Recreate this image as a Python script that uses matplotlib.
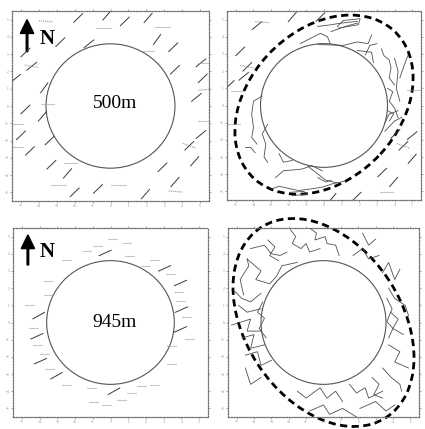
import matplotlib
matplotlib.use("Agg")
import numpy as np
import matplotlib.pyplot as plt
from matplotlib.patches import Circle, Ellipse

plt.rcParams["font.family"] = ["Liberation Serif", "DejaVu Serif"]

TICKS = list(range(-5, 6))
HOLE_R = 3.6
DEPTHS = ["500m", "945m"]

# --- 500 m: orientation sticks (centre x, centre y, angle in deg) ---
tl_stick_x = [-1.8, -0.2, 0.8, 2.1, -2.8, -1.2, 2.6, 3.5, -4.75, -4.4, 3.6, 5.05, -5.3, 5.15, -3.7, 4.8,
              -4.75, -3.8, -5.0, -3.4, -4.5, 4.4, 5.05, 4.7, -3.3, -2.4, 2.9, 3.6, -2.0, -0.7, 1.95]
tl_stick_y = [5.1, 5.25, 4.9, 5.1, 3.7, 3.6, 3.85, 3.4, 3.1, 2.3, 2.1, 2.5, 1.6, 1.6, 1.05, 0.5,
              -0.2, -0.6, -1.7, -2.0, -2.6, -2.3, -1.65, -3.2, -3.4, -3.9, -3.55, -4.4, -5.0, -4.8, -5.1]
tl_stick_a = [45, 50, 45, 50, 45, 40, 55, 45, 45, 40, 45, 40, 40, 45, 55, 40,
              45, 50, 45, 45, 45, 45, 40, 50, 45, 50, 45, 50, 45, 45, 50]

# faint, nearly horizontal picks
tl_dash_x = [-3.6, -0.4, 2.9, 2.1, 5.3, 5.3, -3.5, -5.3, 5.3, -5.3, -2.2, 0.45, -2.9, 3.65, -4.4, 4.4]
tl_dash_y = [4.9, 4.5, 4.6, 3.2, 2.5, 0.95, 0.1, -1.05, -0.85, -2.4, -3.3, -4.55, -4.6, -4.95, 2.3, -2.3]
tl_dash_a = [-5, 0, 0, 0, 0, 5, 0, 0, 0, 0, 0, 0, 0, -5, -10, -20]

# --- 500 m: sticks outside the damage zone ---
tr_stick_x = [-3.8, -1.8, -0.2, -4.75, -4.35, -4.55, -5.35, 4.5, 5.0, 4.05, 5.0, 3.3, 3.95, 1.85, 0.45]
tr_stick_y = [4.65, 5.15, 5.15, 3.15, 2.25, 1.7, 1.2, -2.35, -3.1, -1.65, -1.75, -3.9, -4.45, -5.3, -5.4]
tr_stick_a = [40, 50, 45, 45, 45, 40, 45, 45, 50, 45, 40, 45, 50, 45, 50]

tr_dash_x = [-3.5, -5.1, -4.9, 3.55, 5.1, -4.35, 4.5]
tr_dash_y = [4.85, -1.05, 0.85, -5.05, 0.9, 2.25, -2.35]
tr_dash_a = [-5, 0, 0, 0, 0, -10, -20]

# fracture traces around the hole at 500 m
tr_traces = [
    [(-0.35, 4.6), (0.4, 4.7), (1.0, 4.8), (1.9, 4.9)],
    [(0.4, 4.3), (1.2, 4.6), (1.9, 4.8)],
    [(0.75, 4.6), (1.1, 4.95), (2.05, 5.05), (1.95, 4.7), (0.8, 4.5)],
    [(-1.35, 3.6), (-0.2, 4.2), (0.2, 4.0), (0.35, 3.6)],
    [(-0.35, 3.55), (1.1, 3.5), (1.9, 3.7), (2.5, 3.6), (2.7, 4.1)],
    [(1.9, 3.2), (2.7, 3.1), (2.8, 2.5)],
    [(2.35, 2.95), (2.6, 3.5), (3.0, 3.6)],
    [(3.25, 3.3), (3.4, 2.9), (3.7, 2.65), (3.8, 2.2), (3.7, 1.6), (4.0, 1.2)],
    [(4.0, 2.75), (4.2, 2.0), (4.1, 1.0), (4.3, 0.25)],
    [(4.75, 2.9), (4.5, 2.2), (4.3, 1.6)],
    [(3.6, 1.0), (3.9, 0.8), (3.7, 0.25), (4.0, -0.15), (4.2, -0.7)],
    [(3.6, -0.3), (3.95, -0.5), (3.7, -0.9)],
    [(3.45, -1.5), (4.0, -0.9), (4.4, -0.7)],
    [(3.45, -1.0), (3.7, -0.5), (4.2, -0.3)],
    [(-3.5, 0.55), (-4.0, 0.25), (-4.1, -0.5), (-4.0, -1.3), (-4.1, -1.85), (-3.8, -2.25)],
    [(-3.2, -1.1), (-3.5, -1.65), (-3.3, -2.25), (-3.4, -3.0), (-3.2, -3.3)],
    [(-4.45, -2.45), (-4.15, -2.45), (-3.9, -2.75)],
    [(-2.55, -2.8), (-2.3, -3.3), (-1.8, -3.2)],
    [(-2.75, -4.2), (-2.3, -3.8), (-1.25, -3.7), (-0.7, -3.5), (-0.1, -3.8)],
    [(-2.95, -4.85), (-2.55, -4.7), (-1.9, -4.85), (-1.45, -4.95), (-0.7, -4.85), (-0.1, -4.75),
     (0.5, -4.55), (1.2, -4.4)],
    [(-1.9, -5.05), (-1.15, -5.0), (-0.95, -5.15), (-1.8, -5.25)],
    [(-0.9, -3.55), (0.1, -4.35), (0.75, -4.5)],
    [(-0.35, -4.2), (0.1, -4.45), (0.4, -4.35)],
]

# --- 945 m: sticks ---
bl_stick_x = [-0.3, 3.05, 3.95, 4.0, 3.95, -4.05, -4.15, -3.95, -3.05, 0.2]
bl_stick_y = [4.05, 3.15, 2.3, 0.75, -0.4, 0.4, -0.8, -2.25, -3.1, -4.0]
bl_stick_a = [25, 25, 25, 25, 25, 30, 25, 25, 30, 30]

bl_dash_x = [0.15, 0.9, -0.7, -1.35, 1.1, 2.5, 2.0, -2.45, 3.4, -3.5, 3.85, -3.5, -4.55, 3.95, 4.3,
             -4.35, 4.5, -4.1, 3.45, -3.7, -3.4, 3.45, 2.5, 1.2, -2.45, -1.05, -0.95, -0.2, 0.65, 1.75]
bl_dash_y = [4.85, 4.6, 4.45, 4.15, 3.85, 3.65, 3.3, 3.65, 2.8, 2.4, 1.8, 1.6, 1.0, 1.25, 0.3,
             -0.3, -0.95, -1.3, -1.35, -1.85, -2.7, -2.4, -3.65, -4.1, -3.65, -3.8, -4.6, -4.8, -4.5, -3.7]

# --- 945 m: fracture traces ---
br_traces = [
    [(-1.9, 5.4), (-1.6, 5.0), (-1.8, 4.6), (-1.3, 4.3), (-1.0, 4.6), (-0.8, 4.1), (-0.2, 4.3)],
    [(-0.8, 5.5), (-0.4, 5.2), (-0.5, 4.8), (0.1, 5.0), (0.2, 4.6), (0.7, 4.5), (0.9, 3.9)],
    [(-4.4, 3.7), (-3.6, 3.0), (-3.9, 2.5), (-3.1, 2.25), (-2.7, 2.7), (-2.4, 3.3), (-1.5, 3.5)],
    [(-4.2, 4.3), (-3.4, 4.5), (-3.0, 4.0), (-2.5, 3.9), (-2.1, 4.1)],
    [(-3.2, 4.8), (-2.8, 4.4), (-3.1, 3.9), (-2.6, 3.6)],
    [(-4.6, 1.6), (-4.8, 2.5), (-4.3, 3.3), (-4.4, 3.7)],
    [(-5.1, 1.8), (-4.7, 1.4), (-4.2, 1.2), (-3.6, 1.7)],
    [(-4.9, 1.0), (-4.4, 0.6), (-3.6, 0.8)],
    [(-5.3, -0.15), (-4.2, 0.2), (-4.4, -0.5), (-3.6, -0.5)],
    [(-4.7, -0.9), (-4.0, -0.7), (-4.2, -1.5), (-3.4, -1.3)],
    [(-4.5, -1.9), (-3.8, -1.7), (-3.6, -2.5), (-3.0, -2.2)],
    [(-4.5, -2.65), (-4.2, -3.6), (-3.6, -3.2)],
    [(-3.5, 1.2), (-3.8, 0.6), (-3.4, 0.25), (-3.7, -0.35), (-3.3, -0.9)],
    [(-1.5, -4.0), (-1.0, -4.4), (-0.2, -3.8), (0.2, -4.4), (0.7, -4.0), (1.1, -4.6)],
    [(-0.8, -5.15), (0.0, -4.8), (0.35, -5.35), (1.1, -5.0), (1.9, -5.5)],
    [(1.5, -3.6), (1.9, -4.1), (2.4, -3.8), (2.6, -4.4), (3.4, -4.0)],
    [(2.1, -5.0), (3.0, -4.6), (3.6, -5.15), (4.1, -4.8)],
    [(2.8, -3.2), (3.2, -3.6), (2.9, -4.2), (3.4, -4.4)],
    [(3.4, 2.9), (3.75, 3.5), (4.1, 2.5), (4.4, 3.1)],
    [(3.75, 2.0), (4.1, 1.4), (4.7, 1.0), (4.9, 0.4)],
    [(3.85, 0.6), (4.3, 0.2), (4.0, -0.35), (4.6, -0.7)],
    [(3.75, -1.3), (4.4, -1.7), (4.1, -2.3), (4.9, -2.65)],
    [(3.4, -2.65), (3.9, -3.2), (4.4, -3.6), (4.5, -4.0)],
    [(3.65, 1.4), (3.95, 0.8), (3.65, 0.05), (4.0, -0.35), (3.75, -0.9)],
    [(1.7, 3.9), (2.25, 4.3), (2.6, 3.7), (3.2, 3.9)],
    [(2.25, 5.2), (2.6, 4.5), (3.0, 4.85)],
]

# dashed damage-zone ellipses: centre, semi-axes, tilt
zone_500 = dict(cx=0.0, cy=0.05, a=5.85, b=4.3, tilt=48)
zone_945 = dict(cx=0.0, cy=0.0, a=6.6, b=4.5, tilt=123)


def setup(ax):
    ax.set_xlim(-5.5, 5.5)
    ax.set_ylim(-5.5, 5.5)
    ax.set_xticks(TICKS)
    ax.set_yticks(TICKS)
    ax.tick_params(direction="out", length=1.5, width=0.5, color="#888888",
                   labelsize=2.5, labelcolor="#888888", pad=1,
                   top=True, right=True)
    for s in ax.spines.values():
        s.set_linestyle((0, (1, 1.2)))
        s.set_color("#707070")
        s.set_linewidth(0.9)
    ax.add_patch(Circle((0, 0), HOLE_R, fill=False, ec="#555555", lw=0.8))


def sticks(ax, xs, ys, angs, length, **kw):
    for x, y, a in zip(xs, ys, angs):
        dx = 0.5 * length * np.cos(np.radians(a))
        dy = 0.5 * length * np.sin(np.radians(a))
        ax.plot([x - dx, x + dx], [y - dy, y + dy], **kw)


def traces(ax, lines):
    for ln in lines:
        xs, ys = zip(*ln)
        ax.plot(xs, ys, color="#505050", lw=0.6, solid_joinstyle="miter")


def zone(ax, z):
    ax.add_patch(Ellipse((z["cx"], z["cy"]), 2 * z["a"], 2 * z["b"], angle=z["tilt"],
                         fill=False, ec="black", lw=2.0, ls=(0, (2.6, 1.6)), clip_on=False))


def north(ax, y0, y1, ny):
    ax.arrow(-4.66, y0, 0, y1 - y0, width=0.09, head_width=0.75, head_length=0.8,
             length_includes_head=True, color="black")
    ax.text(-3.55, ny, "N", fontsize=15, fontweight="bold", ha="center", va="center")


fig = plt.figure(figsize=(4.25, 4.29), dpi=100)
W, H = 425, 429
ax_tl = fig.add_axes([12 / W, 228 / H, 197 / W, 190 / H])
ax_tr = fig.add_axes([227 / W, 229 / H, 194 / W, 189 / H])
ax_bl = fig.add_axes([13 / W, 12 / H, 195 / W, 189 / H])
ax_br = fig.add_axes([228 / W, 12 / H, 191 / W, 189 / H])

for ax in (ax_tl, ax_tr, ax_bl, ax_br):
    setup(ax)

stick_style = dict(color="#3a3a3a", lw=0.7)
dash_style = dict(color="#9a9a9a", lw=0.8, ls=(0, (1, 0.8)))

# 500 m, picks only
sticks(ax_tl, tl_stick_x, tl_stick_y, tl_stick_a, 0.7, **stick_style)
sticks(ax_tl, tl_dash_x, tl_dash_y, tl_dash_a, 0.8, **dash_style)
ax_tl.text(0.25, 0.15, DEPTHS[0], fontsize=14, ha="center", va="center")
north(ax_tl, 3.15, 5.0, 3.9)

# 500 m, interpreted
sticks(ax_tr, tr_stick_x, tr_stick_y, tr_stick_a, 0.7, **stick_style)
sticks(ax_tr, tr_dash_x, tr_dash_y, tr_dash_a, 0.8, **dash_style)
traces(ax_tr, tr_traces)
zone(ax_tr, zone_500)

# 945 m, picks only
sticks(ax_bl, bl_stick_x, bl_stick_y, bl_stick_a, 0.75, **stick_style)
sticks(ax_bl, bl_dash_x, bl_dash_y, [0] * len(bl_dash_x), 0.55, **dash_style)
ax_bl.text(0.25, 0.0, DEPTHS[1], fontsize=14, ha="center", va="center")
north(ax_bl, 3.35, 5.1, 4.1)

# 945 m, interpreted
traces(ax_br, br_traces)
zone(ax_br, zone_945)

fig.savefig("out.png", dpi=100)
